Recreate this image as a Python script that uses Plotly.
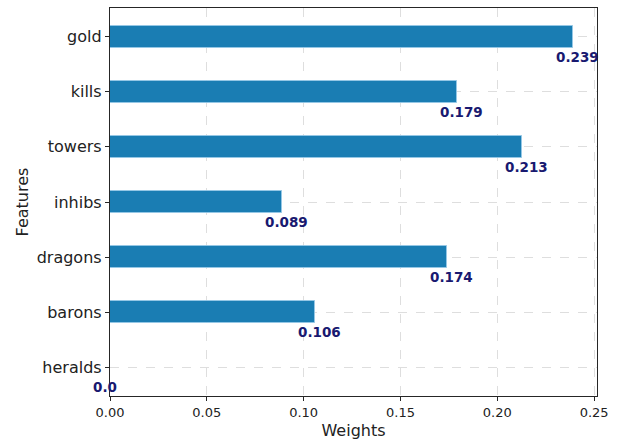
import plotly.graph_objects as go

features = ["gold", "kills", "towers", "inhibs", "dragons", "barons", "heralds"]
weights = [0.239, 0.179, 0.213, 0.089, 0.174, 0.106, 0.0]
x_ticks = [0.00, 0.05, 0.10, 0.15, 0.20, 0.25]
x_tick_labels = ["0.00", "0.05", "0.10", "0.15", "0.20", "0.25"]

font_family = "DejaVu Sans"

fig = go.Figure()
fig.add_trace(go.Bar(
    x=weights,
    y=features,
    orientation="h",
    width=0.4,
    marker=dict(color="#1a7db3",
                line=dict(color="rgba(150,200,230,0.9)", width=1)),
    hoverinfo="x+y",
))

# value labels just below the end of each bar, nudged left by ~0.01 in x
for i, (feat, w) in enumerate(zip(features, weights)):
    fig.add_annotation(
        x=w, y=i + 0.36,
        xref="x", yref="y",
        xshift=-19,
        text=f"<b>{w}</b>",
        showarrow=False,
        xanchor="left", yanchor="middle",
        font=dict(family=font_family, size=13.5, color="#191970"),
    )

axis_common = dict(
    showline=True, linecolor="#262626", linewidth=1.3, mirror=True,
    ticks="outside", ticklen=4, tickcolor="#262626", tickwidth=1,
    showgrid=True, gridcolor="rgba(200,200,200,0.6)", griddash="dash", gridwidth=1,
    zeroline=False,
    layer="above traces",
    title_font=dict(family=font_family, size=16, color="#222222"),
)

fig.update_layout(
    width=618, height=444,
    margin=dict(l=110, r=21, t=7, b=47),
    plot_bgcolor="white", paper_bgcolor="white",
    showlegend=False,
    bargap=0,
    xaxis=dict(
        range=[0, 0.2515],
        tickvals=x_ticks, ticktext=x_tick_labels,
        tickfont=dict(family=font_family, size=13, color="#222222"),
        title=dict(text="Weights", standoff=6),
        **axis_common,
    ),
    yaxis=dict(
        categoryorder="array", categoryarray=features,
        range=[6.52, -0.52],
        tickfont=dict(family=font_family, size=16, color="#222222"),
        title=dict(text="Features", standoff=4),
        **axis_common,
    ),
)

fig.write_html("out.html")
